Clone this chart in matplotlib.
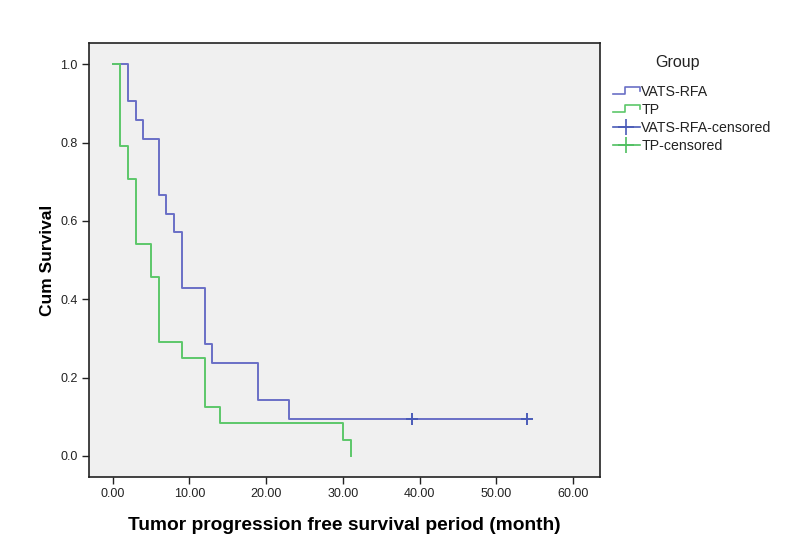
import matplotlib
matplotlib.use("Agg")
import matplotlib.pyplot as plt
from matplotlib.legend_handler import HandlerBase
from matplotlib.lines import Line2D

plt.rcParams['font.family'] = ['Liberation Sans', 'DejaVu Sans']

# Kaplan-Meier step data (time in months, cumulative survival)
vats_times = [0, 2, 3, 4, 6, 7, 8, 9, 12, 13, 19, 23, 54]
vats_surv = [1.0, 0.905, 0.857, 0.810, 0.667, 0.619, 0.571, 0.429, 0.286, 0.238, 0.143, 0.095, 0.095]
vats_censored_t = [39, 54]
vats_censored_s = [0.095, 0.095]

tp_times = [0, 1, 2, 3, 5, 6, 9, 12, 14, 30, 31]
tp_surv = [1.0, 0.792, 0.708, 0.542, 0.458, 0.292, 0.250, 0.125, 0.083, 0.042, 0.0]

x_ticks = [0, 10, 20, 30, 40, 50, 60]
y_ticks = [0.0, 0.2, 0.4, 0.6, 0.8, 1.0]

blue = '#6a6fc6'
green = '#5cc76a'
blue_c = '#4a5bb8'
green_c = '#4fbf60'

fig = plt.figure(figsize=(8, 5.6), dpi=100)
ax = fig.add_axes([0.111, 0.148, 0.639, 0.775])
ax.set_facecolor('#f0f0f0')

ax.step(vats_times, vats_surv, where='post', color=blue, lw=1.4)
ax.step(tp_times, tp_surv, where='post', color=green, lw=1.4)
ax.plot(vats_censored_t, vats_censored_s, ls='none', marker='+', ms=8, mew=1.4, color=blue_c)

ax.set_xlim(-3.1, 63.5)
ax.set_ylim(-0.054, 1.054)
ax.set_xticks(x_ticks)
ax.set_xticklabels([f'{v:.2f}' for v in x_ticks])
ax.set_yticks(y_ticks)
ax.set_yticklabels([f'{v:.1f}' for v in y_ticks])
ax.tick_params(direction='out', length=5, width=1, labelsize=9, colors='#222222', pad=3)
for s in ax.spines.values():
    s.set_linewidth(1.2)
    s.set_color('#222222')

ax.set_xlabel('Tumor progression free survival period (month)', fontsize=13.8, fontweight='bold', labelpad=12)
ax.set_ylabel('Cum Survival', fontsize=12.5, fontweight='bold', labelpad=4)


class StepHandler(HandlerBase):
    def __init__(self, color):
        super().__init__()
        self.color = color

    def create_artists(self, legend, orig_handle, xdescent, ydescent, width, height, fontsize, trans):
        xs = [0, width * 0.45, width * 0.45, width, width]
        ys = [height * 0.15, height * 0.15, height * 0.85, height * 0.85, height * 0.45]
        xs = [x - xdescent for x in xs]
        ys = [y - ydescent for y in ys]
        l = Line2D(xs, ys, color=self.color, lw=1.2, transform=trans)
        return [l]


h1 = Line2D([], [], color=blue)
h2 = Line2D([], [], color=green)
h3 = Line2D([0], [0], color=blue_c, marker='+', ms=12, mew=1.2, lw=1.2)
h4 = Line2D([0], [0], color=green_c, marker='+', ms=12, mew=1.2, lw=1.2)

fig.text(677 / 800, 1 - 62 / 560, 'Group', fontsize=11.5, ha='center', va='center', color='#222222')
leg = fig.legend([h1, h2, h3, h4], ['VATS-RFA', 'TP', 'VATS-RFA-censored', 'TP-censored'],
                 loc='upper left', bbox_to_anchor=(0.7625, 1 - 82 / 560),
                 frameon=False, fontsize=10.2,
                 handlelength=1.9, handletextpad=0.1, labelspacing=0.28,
                 borderaxespad=0, borderpad=0.2,
                 handler_map={h1: StepHandler(blue), h2: StepHandler(green)})
for t in leg.get_texts():
    t.set_color('#222222')

fig.savefig('out.png', dpi=100, facecolor='white')
